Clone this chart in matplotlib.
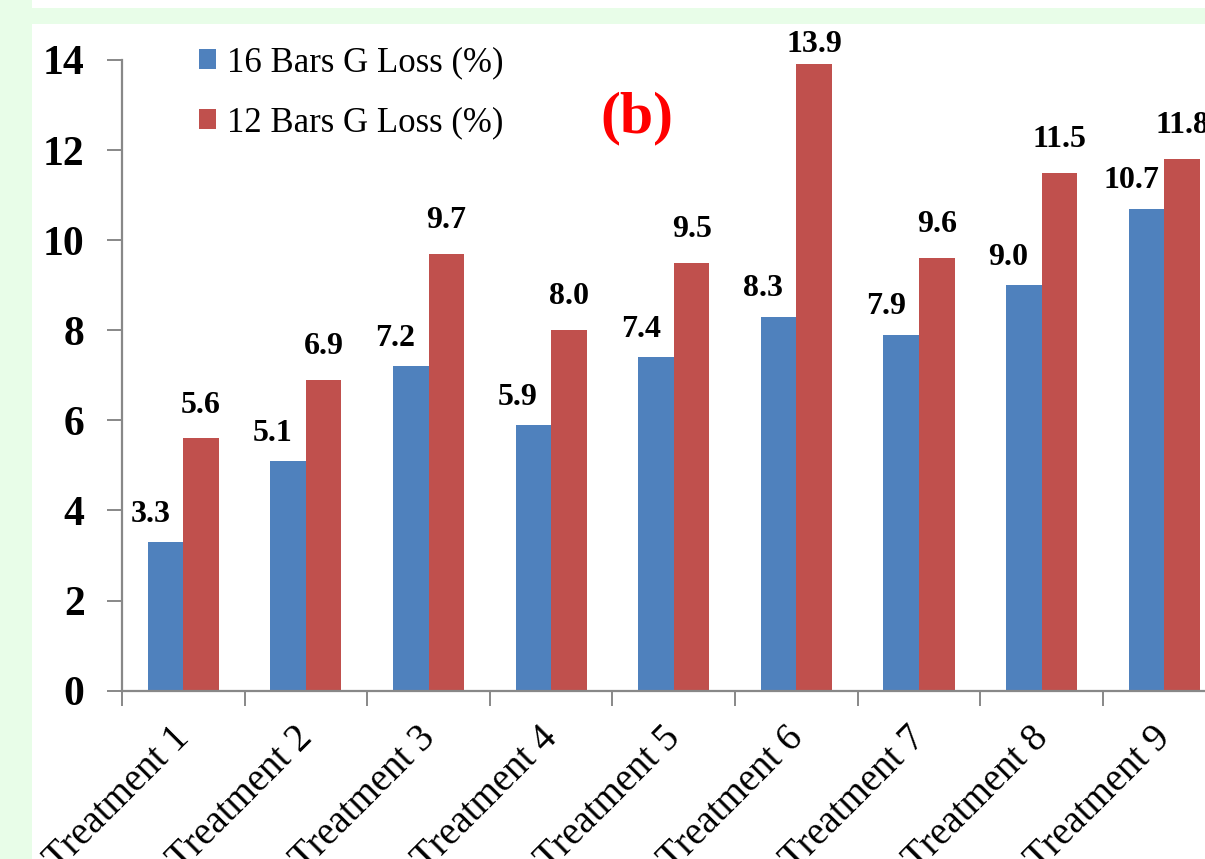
import numpy as np
import matplotlib
matplotlib.use('Agg')
import matplotlib.pyplot as plt
from matplotlib.patches import Rectangle, Patch

#=====data
treatments = ['Treatment 1', 'Treatment 2', 'Treatment 3', 'Treatment 4', 'Treatment 5',
              'Treatment 6', 'Treatment 7', 'Treatment 8', 'Treatment 9']
loss16 = [3.3, 5.1, 7.2, 5.9, 7.4, 8.3, 7.9, 9.0, 10.7]
loss12 = [5.6, 6.9, 9.7, 8.0, 9.5, 13.9, 9.6, 11.5, 11.8]
series_names = ['16 Bars G Loss (%)', '12 Bars G Loss (%)']
yticks = [0, 2, 4, 6, 8, 10, 12, 14]

blue = '#4F81BD'
red = '#C0504D'
green_bg = '#E8FDE8'
serif = 'Liberation Serif'

W, H = 1205, 859
fig = plt.figure(figsize=(W / 100, H / 100), dpi=100, facecolor=green_bg)

# white panels over the green page
fig.patches.append(Rectangle((32 / W, 0), 1 - 32 / W, 1 - 24 / H, transform=fig.transFigure,
                             facecolor='white', edgecolor='none', zorder=-10))
fig.patches.append(Rectangle((32 / W, 1 - 8 / H), 1 - 32 / W, 8 / H, transform=fig.transFigure,
                             facecolor='white', edgecolor='none', zorder=-10))

# axes run past the right edge (chart is cropped in the reference)
ax = fig.add_axes([122 / W, (H - 690.7) / H, 1103.6 / W, 630.8 / H])
ax.set_facecolor('none')

x = np.arange(len(treatments)) + 0.5
bw = 0.29
b1 = ax.bar(x - bw / 2, loss16, bw, color=blue, label=series_names[0], zorder=2)
b2 = ax.bar(x + bw / 2, loss12, bw, color=red, label=series_names[1], zorder=2)

ax.set_xlim(0, len(treatments))
ax.set_ylim(0, 14)

# value labels (offsets in points)
for xi, v in zip(x - bw / 2, loss16):
    ax.annotate('%.1f' % v, (xi, v), xytext=(-11, 20), textcoords='offset points',
                ha='center', va='center', fontsize=23, fontweight='bold',
                family=serif, annotation_clip=False)
for xi, v in zip(x + bw / 2, loss12):
    dy = 14 if v > 13 else 24
    ax.annotate('%.1f' % v, (xi, v), xytext=(0, dy), textcoords='offset points',
                ha='center', va='center', fontsize=23, fontweight='bold',
                family=serif, annotation_clip=False)

# axes styling
for s in ['top', 'right']:
    ax.spines[s].set_visible(False)
for s in ['left', 'bottom']:
    ax.spines[s].set_color('#888888')
    ax.spines[s].set_linewidth(1.6)

ax.set_yticks(yticks)
ax.set_yticklabels([str(t) for t in yticks], fontsize=30, fontweight='bold', family=serif)
ax.tick_params(axis='y', length=11, width=1.4, color='#888888', pad=16)

ax.set_xticks(np.arange(len(treatments) + 1), minor=True)
ax.set_xticks(x)
ax.set_xticklabels(treatments, rotation=45, ha='right', va='top', rotation_mode='anchor',
                   fontsize=28, family=serif)
ax.tick_params(axis='x', which='major', length=0, pad=21)
ax.tick_params(axis='x', which='minor', length=11, width=1.4, color='#888888')
for lbl in ax.get_xticklabels():
    lbl.set_transform(lbl.get_transform() + matplotlib.transforms.ScaledTranslation(-12 / 100, 0, fig.dpi_scale_trans))

# legend
handles = [Patch(facecolor=blue), Patch(facecolor=red)]
ax.legend(handles, series_names, loc='upper left', bbox_to_anchor=(199 / W, 1 - 46 / H),
          bbox_transform=fig.transFigure, frameon=False, prop={'family': serif, 'size': 25},
          handlelength=0.5, handleheight=0.5, handletextpad=0.3, labelspacing=0.78,
          borderpad=0, borderaxespad=0)

# panel label
fig.text(637 / W, 1 - 118 / H, '(b)', color='red', fontsize=43, fontweight='bold',
         family=serif, ha='center', va='center')

fig.savefig('out.png', dpi=100, facecolor=green_bg)
